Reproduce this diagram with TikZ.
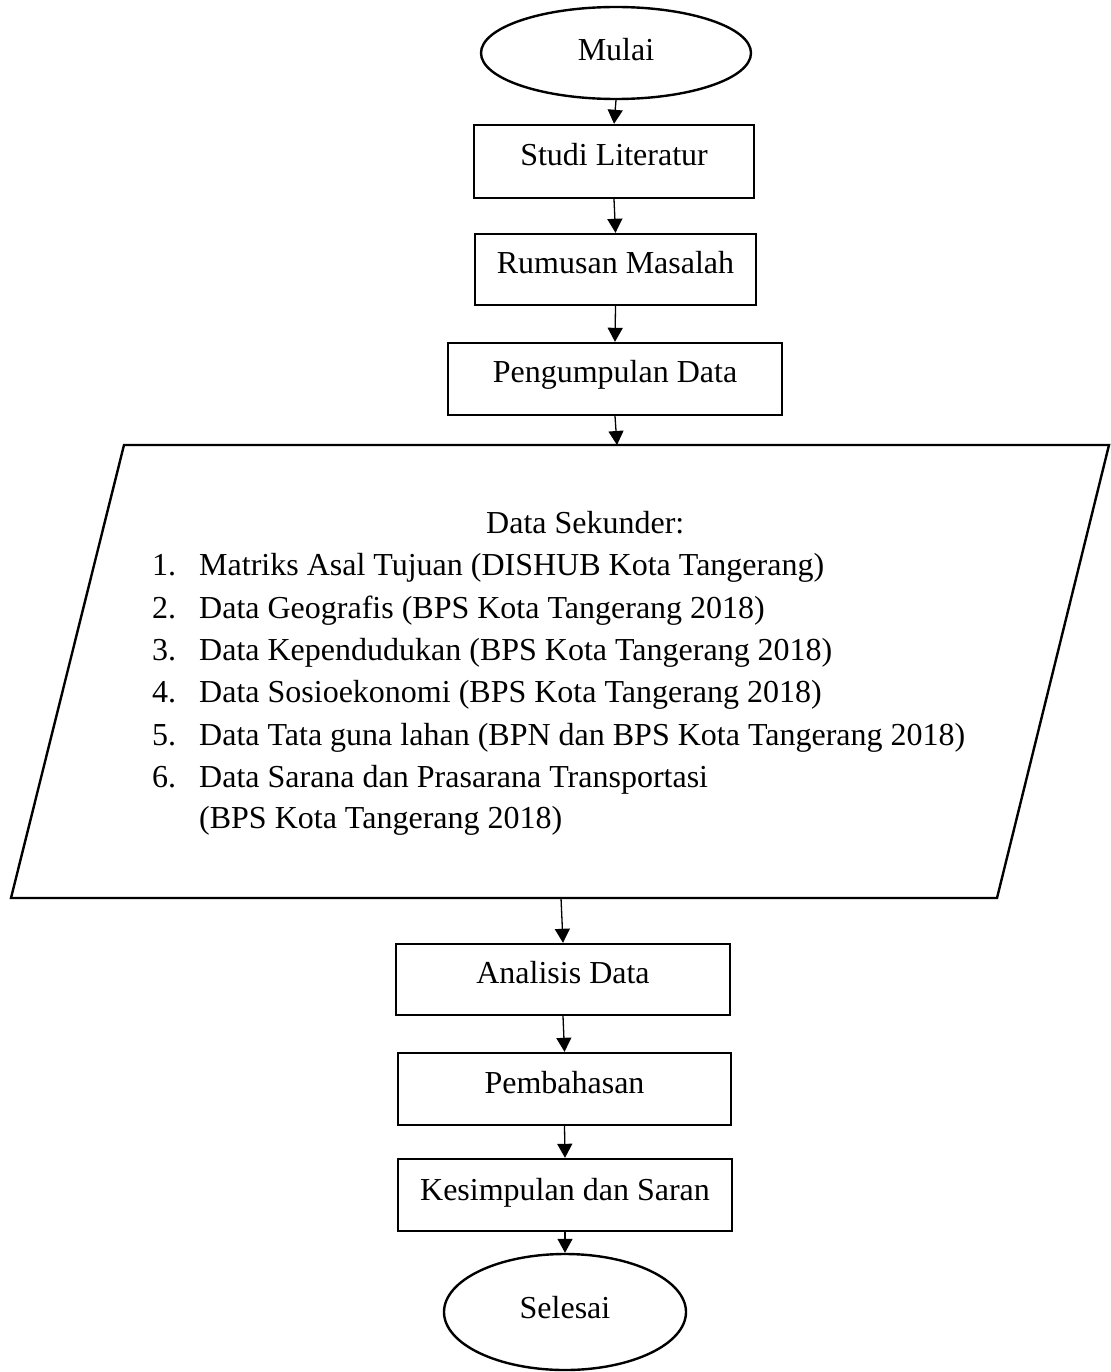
\documentclass[tikz,border=0pt]{standalone}
\usepackage{fontspec}
\setmainfont{Liberation Serif}
\usetikzlibrary{shapes.geometric,arrows.meta}
\tikzset{
  lbl/.style={font=\fontsize{32}{38}\selectfont},
  stepbox/.style={lbl,draw,line width=2.4pt,inner sep=0pt,text height=18pt,text depth=10pt},
  term/.style={lbl,draw,ellipse,line width=2.4pt,inner sep=0pt,text height=18pt},
  arr/.style={line width=1.3pt,-{Triangle[length=14pt,width=15pt]}},
  item/.style={lbl,anchor=base west,inner sep=0pt}
}
\begin{document}
\begin{tikzpicture}[x=1pt,y=-1pt]
\useasboundingbox (0,0) rectangle (1110,1372);
\node[term,text depth=2pt,minimum width=270pt,minimum height=92pt] (mulai) at (616,53) {Mulai};
\node[stepbox,minimum width=280pt,minimum height=73pt] (studi) at (614,161.5) {Studi Literatur};
\node[stepbox,minimum width=281pt,minimum height=71pt] (rumus) at (615.5,269.5) {Rumusan Masalah};
\node[stepbox,text depth=12pt,minimum width=334pt,minimum height=72pt] (kumpul) at (615,379) {Pengumpulan Data};
% parallelogram
\coordinate (ptl) at (124,445);
\coordinate (ptr) at (1109,445);
\coordinate (pbr) at (997,898);
\coordinate (pbl) at (11,898);
\draw[line width=2.4pt,line join=miter] (ptl) -- (ptr) -- (pbr) -- (pbl) -- cycle;
\coordinate (pin) at (617,445);
\coordinate (pout) at (561,898);
\node[item] (head) at (486,533) {Data Sekunder:};
\node[item] (k1) at (152,575) {1.};
\node[item] (t1) at (199,575) {Matriks Asal Tujuan (DISHUB Kota Tangerang)};
\node[item] (k2) at (152,618) {2.};
\node[item] (t2) at (199,618) {Data Geografis (BPS Kota Tangerang 2018)};
\node[item] (k3) at (152,660) {3.};
\node[item] (t3) at (199,660) {Data Kependudukan (BPS Kota Tangerang 2018)};
\node[item] (k4) at (152,702) {4.};
\node[item] (t4) at (199,702) {Data Sosioekonomi (BPS Kota Tangerang 2018)};
\node[item] (k5) at (152,745) {5.};
\node[item] (t5) at (199,745) {Data Tata guna lahan (BPN dan BPS Kota Tangerang 2018)};
\node[item] (k6) at (152,787) {6.};
\node[item] (t6) at (199,787) {Data Sarana dan Prasarana Transportasi};
\node[item] (t7) at (199,828) {(BPS Kota Tangerang 2018)};
\node[stepbox,text depth=11pt,minimum width=334pt,minimum height=71pt] (anal) at (563,979.5) {Analisis Data};
\node[stepbox,minimum width=333pt,minimum height=72pt] (bahas) at (564.5,1089) {Pembahasan};
\node[stepbox,text depth=8pt,minimum width=334pt,minimum height=72pt] (simpul) at (565,1195) {Kesimpulan dan Saran};
\node[term,text depth=6pt,minimum width=242pt,minimum height=116pt] (selesai) at (565,1312) {Selesai};
% connectors
\draw[arr] (mulai.south) -- (studi.north);
\draw[arr] (studi.south) -- (rumus.north);
\draw[arr] (rumus.south) -- (kumpul.north);
\draw[arr] (kumpul.south) -- (pin);
\draw[arr] (pout) -- (anal.north);
\draw[arr] (anal.south) -- (bahas.north);
\draw[arr] (bahas.south) -- (simpul.north);
\draw[arr] (simpul.south) -- (selesai.north);
\end{tikzpicture}
\end{document}
